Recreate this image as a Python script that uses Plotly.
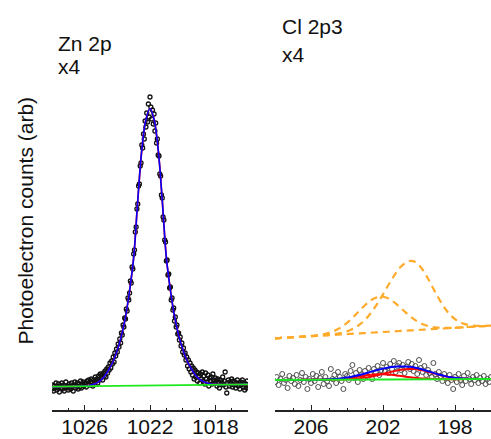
import numpy as np
import plotly.graph_objects as go

# ---------------- Zn 2p region ----------------
# measured binding-energy grid (eV), 0.05 eV steps
zn_energy = np.round(np.linspace(1028.0, 1016.0, 241), 2)
zn_counts = [
    21, 25, 19, 24, 22, 27, 20, 23, 26, 18,
    24, 22, 27, 21, 25, 19, 23, 28, 22, 24,
    20, 26, 23, 21, 27, 24, 19, 25, 28, 22,
    24, 27, 21, 26, 23, 29, 22, 25, 28, 24,
    26,
    27, 23, 29, 26, 30, 25, 28, 31, 27, 24,
    30, 28, 33, 29, 31, 27, 34, 30, 36, 32,
    35, 30, 37, 34, 39, 33, 41, 37, 43, 40,
    47, 42, 49, 46, 53, 48, 57, 54, 61, 58,
    66, 63, 71, 67, 77, 75, 85, 83, 92, 91,
    101, 99, 112, 110, 117, 129, 127, 143, 141, 156,
    160, 178, 183, 201, 206, 224, 226, 244, 247, 265,
    262, 276, 271, 289, 283, 297, 288, 306, 293, 313,
    303, 291, 300, 286, 296, 279, 287, 267, 271, 255,
    254, 236, 234, 215, 212, 193, 190, 170, 168, 149,
    150, 135, 136, 122, 123, 110, 112, 100, 102, 89,
    93, 83, 85, 76, 77, 70, 73, 64, 67, 58,
    62, 55, 57, 50, 53, 44, 50, 41, 47, 38,
    44, 35, 42, 31, 40, 33, 38, 29, 37, 34,
    27, 36, 31, 38, 29, 34, 26, 37, 31, 28,
    35, 24, 32, 29, 33, 26, 36, 30, 27, 32,
    29, 24, 31, 27, 22, 30, 26, 28, 33, 25,
    29, 38, 23, 17, 27, 30, 24, 28, 26, 31,
    23, 29, 25, 28, 22, 27, 30, 24, 26, 21,
    28, 25, 30, 23, 27, 20, 26, 22, 29, 24,
]

# fit model grid, 0.25 eV steps
zn_fit_energy = np.round(np.linspace(1028.0, 1016.0, 49), 2)
zn_background = [
    23.30, 23.35, 23.40, 23.45, 23.50, 23.55, 23.60, 23.65, 23.70, 23.75,
    23.80, 23.85, 23.90, 23.95, 24.00, 24.05, 24.10, 24.15, 24.20, 24.25,
    24.30, 24.35, 24.40, 24.45, 24.50, 24.55, 24.60, 24.65, 24.70, 24.75,
    24.80, 24.85, 24.90, 24.95, 25.00, 25.05, 25.10, 25.15, 25.20, 25.25,
    25.30, 25.35, 25.40, 25.45, 25.50, 25.55, 25.60, 25.65, 25.70,
]
zn_component = [
    0, 0, 0, 0, 0, 0, 0.05, 0.1, 0.3, 0.8,
    1.7, 3.3, 6.0, 10.5, 17.0, 25.0, 36.0, 50.0, 69.0, 95.0,
    128.0, 185.0, 236.0, 266.0, 277.0, 266.0, 236.0, 185.0, 128.0, 95.0,
    69.0, 50.0, 36.0, 25.0, 17.0, 10.5, 6.0, 3.3, 1.7, 0.8,
    0.3, 0.05, 0, 0, 0, 0, 0, 0, 0,
]

# ---------------- Cl 2p region ----------------
cl_energy = np.round(np.linspace(208.0, 196.0, 121), 2)
cl_counts = [
    28, 33, 25, 31, 36, 27, 30, 22, 34, 29,
    32, 26, 35, 24, 30, 37, 28, 33, 21, 31,
    27, 36, 29, 34, 23, 32, 38, 26, 33, 29,
    24, 41, 31, 35, 27, 38, 33, 29, 21, 36,
    34, 30, 39, 45, 32, 37, 28, 40, 35, 31,
    39, 34, 42, 36, 31, 41, 38, 44, 35, 40,
    47, 39, 43, 37, 46, 41, 49, 38, 44, 47,
    40, 45, 37, 43, 48, 41, 46, 39, 44, 36,
    50, 42, 38, 44, 35, 40, 37, 33, 47, 36,
    31, 38, 34, 29, 36, 32, 27, 35, 30, 21,
    33, 28, 36, 30, 25, 34, 29, 37, 31, 26,
    33, 30, 35, 27, 32, 29, 34, 26, 31, 28,
    33,
]

cl_fit_energy = np.round(np.linspace(208.0, 196.0, 49), 2)
cl_background = [
    30.00, 30.02, 30.04, 30.06, 30.08, 30.10, 30.13, 30.15, 30.17, 30.19,
    30.21, 30.23, 30.25, 30.27, 30.29, 30.31, 30.33, 30.35, 30.38, 30.40,
    30.42, 30.44, 30.46, 30.48, 30.50, 30.52, 30.54, 30.56, 30.58, 30.60,
    30.63, 30.65, 30.67, 30.69, 30.71, 30.73, 30.75, 30.77, 30.79, 30.81,
    30.83, 30.85, 30.88, 30.90, 30.92, 30.94, 30.96, 30.98, 31.00,
]
# Cl 2p3/2 component
cl_comp_32 = [
    0, 0, 0, 0, 0, 0, 0, 0, 0.00, 0.01,
    0.02, 0.03, 0.05, 0.09, 0.16, 0.26, 0.42, 0.65, 0.97, 1.41,
    1.98, 2.70, 3.56, 4.55, 5.63, 6.76, 7.85, 8.83, 9.63, 10.16,
    10.39, 10.25, 9.69, 8.78, 7.60, 6.31, 5.01, 3.82, 2.78, 1.93,
    1.29, 0.83, 0.51, 0.30, 0.17, 0.09, 0.05, 0.02, 0.01,
]
# Cl 2p1/2 component
cl_comp_12 = [
    0, 0, 0, 0, 0, 0.00, 0.01, 0.02, 0.04, 0.07,
    0.12, 0.21, 0.35, 0.55, 0.83, 1.21, 1.68, 2.24, 2.87, 3.53,
    4.16, 4.70, 5.09, 5.28, 5.26, 5.02, 4.60, 4.04, 3.40, 2.74,
    2.12, 1.58, 1.12, 0.77, 0.50, 0.31, 0.19, 0.11, 0.06, 0.03,
    0.02, 0.01, 0, 0, 0, 0, 0, 0, 0,
]
# magnified components shown above the spectrum
cl_mag_background = [
    71.70, 71.96, 72.23, 72.49, 72.75, 73.01, 73.28, 73.54, 73.80, 74.06,
    74.33, 74.59, 74.85, 75.11, 75.38, 75.64, 75.90, 76.16, 76.43, 76.69,
    76.95, 77.21, 77.48, 77.74, 78.00, 78.26, 78.53, 78.79, 79.05, 79.31,
    79.58, 79.84, 80.10, 80.36, 80.63, 80.89, 81.15, 81.41, 81.68, 81.94,
    82.20, 82.46, 82.73, 82.99, 83.25, 83.51, 83.78, 84.04, 84.30,
]
cl_mag_32 = [
    0, 0, 0, 0, 0, 0, 0, 0, 0.03, 0.05,
    0.10, 0.20, 0.35, 0.62, 1.06, 1.75, 2.79, 4.32, 6.48, 9.40,
    13.23, 18.03, 23.79, 30.41, 37.66, 45.18, 52.47, 59.01, 64.36, 67.90,
    69.43, 68.53, 64.77, 58.66, 50.80, 42.19, 33.50, 25.51, 18.56, 12.93,
    8.65, 5.53, 3.39, 1.99, 1.12, 0.60, 0.31, 0.15, 0.07,
]
cl_mag_12 = [
    0, 0, 0, 0, 0, 0.03, 0.06, 0.12, 0.24, 0.46,
    0.82, 1.41, 2.32, 3.66, 5.56, 8.07, 11.24, 15.02, 19.25, 23.64,
    27.85, 31.45, 34.07, 35.38, 35.23, 33.64, 30.80, 27.05, 22.77, 18.38,
    14.22, 10.56, 7.52, 5.13, 3.35, 2.11, 1.27, 0.73, 0.40, 0.21,
    0.11, 0.05, 0.02, 0, 0, 0, 0, 0, 0,
]

# ---------------- styling ----------------
FONT = "Liberation Sans, Arial, sans-serif"
W, H = 491, 439
BOTTOM = 29
PLOT_H = H - BOTTOM
BLUE, RED, GREEN, ORANGE = "#0000FF", "#FF0000", "#1EE81E", "#FFAA2A"


def px_x(p):
    return p / W


def px_y(p):
    return (PLOT_H - p) / PLOT_H


zn_bg = np.array(zn_background)
zn_fit = zn_bg + np.array(zn_component)
cl_bg = np.array(cl_background)
cl_p32 = cl_bg + np.array(cl_comp_32)
cl_p12 = cl_bg + np.array(cl_comp_12)
cl_fit = cl_bg + np.array(cl_comp_32) + np.array(cl_comp_12)
mag_bg = np.array(cl_mag_background)

fig = go.Figure()

# Zn panel
fig.add_trace(go.Scatter(x=zn_energy, y=zn_counts, mode="markers",
                         marker=dict(symbol="circle-open", size=4, color="#111111",
                                     line=dict(width=1.3)),
                         xaxis="x", yaxis="y"))
fig.add_trace(go.Scatter(x=zn_fit_energy, y=zn_fit, mode="lines",
                         line=dict(color=RED, width=1.7, shape="spline"),
                         xaxis="x", yaxis="y"))
fig.add_trace(go.Scatter(x=zn_fit_energy, y=zn_fit, mode="lines",
                         line=dict(color=BLUE, width=1.6, shape="spline"),
                         xaxis="x", yaxis="y"))
fig.add_trace(go.Scatter(x=zn_fit_energy, y=zn_bg, mode="lines",
                         line=dict(color=GREEN, width=1.8),
                         xaxis="x", yaxis="y"))

# Cl panel: magnified components
for ys in (mag_bg, mag_bg + np.array(cl_mag_32), mag_bg + np.array(cl_mag_12)):
    fig.add_trace(go.Scatter(x=cl_fit_energy, y=ys, mode="lines",
                             line=dict(color=ORANGE, width=2.2, dash="7px,5px",
                                       shape="spline"),
                             xaxis="x2", yaxis="y2"))
fig.add_trace(go.Scatter(x=cl_energy, y=cl_counts, mode="markers",
                         marker=dict(symbol="circle-open", size=5, color="#4d4d4d",
                                     line=dict(width=1)),
                         xaxis="x2", yaxis="y2"))
for ys in (cl_p32, cl_p12):
    fig.add_trace(go.Scatter(x=cl_fit_energy, y=ys, mode="lines",
                             line=dict(color=RED, width=2, shape="spline"),
                             xaxis="x2", yaxis="y2"))
fig.add_trace(go.Scatter(x=cl_fit_energy, y=cl_fit, mode="lines",
                         line=dict(color=BLUE, width=2, shape="spline"),
                         xaxis="x2", yaxis="y2"))
fig.add_trace(go.Scatter(x=cl_fit_energy, y=cl_bg, mode="lines",
                         line=dict(color=GREEN, width=1.8),
                         xaxis="x2", yaxis="y2"))

axis_common = dict(
    showline=True, linecolor="#222222", linewidth=1.5,
    ticks="inside", ticklen=5, tickwidth=1, tickcolor="#222222",
    showgrid=False, zeroline=False, automargin=False, ticklabelstandoff=-3,
    tickfont=dict(family=FONT, size=21, color="#111111"),
)

fig.update_layout(
    width=W, height=H,
    margin=dict(l=0, r=0, t=0, b=BOTTOM, autoexpand=False),
    paper_bgcolor="white", plot_bgcolor="white",
    showlegend=False,
    xaxis=dict(domain=[px_x(52), px_x(248)], range=[1028, 1016], anchor="y",
               tickvals=[1026, 1022, 1018],
               minor=dict(ticks="inside", ticklen=2.5, dtick=1, tick0=1016,
                          tickcolor="#222222", tickwidth=1),
               **axis_common),
    yaxis=dict(domain=[0, 1], range=[0, PLOT_H], visible=False, anchor="x"),
    xaxis2=dict(domain=[px_x(275), 1.0], range=[208, 196], anchor="y2",
                tickvals=[206, 202, 198],
                minor=dict(ticks="inside", ticklen=2.5, dtick=1, tick0=196,
                           tickcolor="#222222", tickwidth=1),
                **axis_common),
    yaxis2=dict(domain=[0, 1], range=[0, PLOT_H], visible=False, anchor="x2"),
)

labels = [
    ("Zn 2p", 56, 30.5),
    ("x4", 56, 52.5),
    ("Cl 2p3", 280, 13),
    ("x4", 280, 41.5),
]
for text, lx, ly in labels:
    fig.add_annotation(text=text, x=px_x(lx), y=px_y(ly), xref="paper", yref="paper",
                       xanchor="left", yanchor="top", showarrow=False,
                       font=dict(family=FONT, size=21, color="#111111"))

fig.add_annotation(text="Photoelectron counts (arb)", x=px_x(25.4), y=px_y(221),
                   xref="paper", yref="paper", xanchor="center", yanchor="middle",
                   textangle=-90, showarrow=False,
                   font=dict(family=FONT, size=21, color="#111111"))

fig.write_html("out.html")
